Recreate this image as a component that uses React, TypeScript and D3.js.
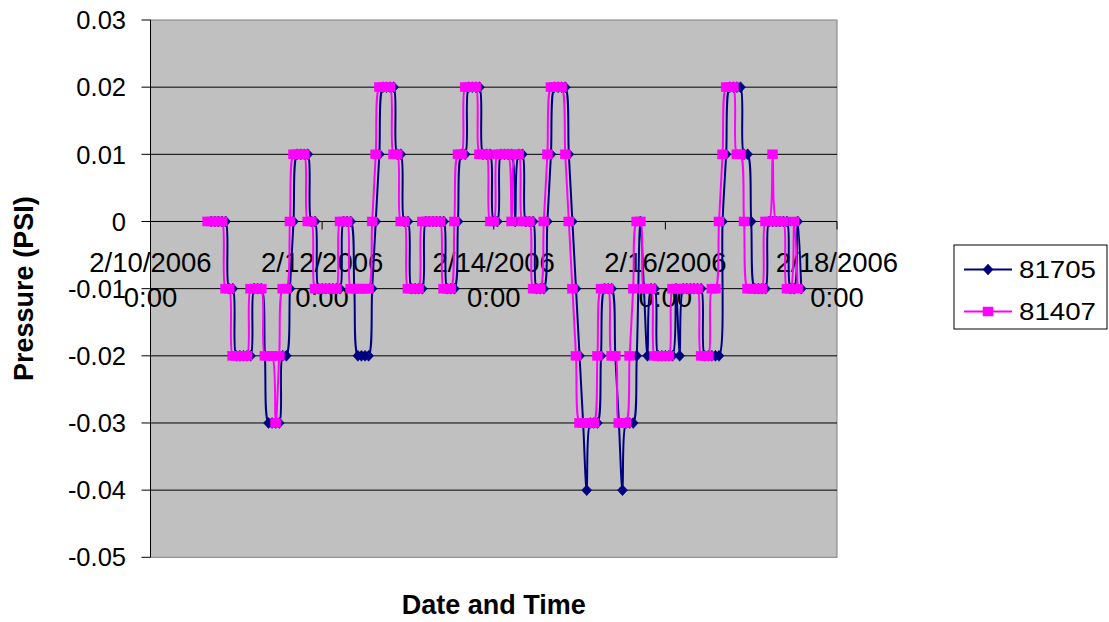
import React from "react";
import * as d3 from "d3";

// ---------- data ----------
// hourly readings, series 81705 starts 2/10/2006 17:00, series 81407 starts 2/10/2006 16:00
const start81705 = new Date(2006, 1, 10, 17);
const start81407 = new Date(2006, 1, 10, 16);

const values81705: number[] = [
  0, 0, 0, 0, 0, -0.01, -0.01, -0.02, -0.02, -0.02, -0.02, -0.02, -0.01, -0.01, -0.01, -0.02,
  -0.03, -0.03, -0.03, -0.03, -0.02, -0.02, -0.01, 0, 0.01, 0.01, 0.01, 0.01, 0, 0,
  -0.01, -0.01, -0.01, -0.01, -0.01, -0.01, -0.01, 0, 0, 0, -0.01, -0.02, -0.02, -0.02, -0.02, -0.01,
  0, 0.01, 0.02, 0.02, 0.02, 0.02, 0.01, 0.01, 0, 0, -0.01, -0.01, -0.01, -0.01,
  0, 0, 0, 0, 0, 0, -0.01, -0.01, -0.01, 0, 0.01, 0.01, 0.02, 0.02, 0.02, 0.02,
  0.01, 0.01, 0.01, 0, 0, 0.01, 0.01, 0.01, 0.01, 0, 0.01, 0.01, 0, 0, 0,
  -0.01, -0.01, -0.01, 0, 0.01, 0.02, 0.02, 0.02, 0.02, 0.01, 0, -0.01, -0.02, -0.03, -0.04,
  -0.03, -0.03, -0.03, -0.02, -0.01, -0.01, -0.01, -0.02, -0.03, -0.04, -0.03, -0.03, -0.03,
  -0.02, 0, -0.01, -0.02, -0.01, -0.01, -0.02, -0.02, -0.02, -0.02, -0.02, -0.01, -0.02,
  -0.01, -0.01, -0.01, -0.01, -0.01, -0.01, -0.02, -0.02, -0.02, -0.02, -0.02,
  0, 0.01, 0.02, 0.02, 0.02, 0.02, 0.01, 0.01, 0, -0.01, -0.01, -0.01, -0.01, 0, 0, 0,
  0, 0, 0, -0.01, -0.01, 0, -0.01,
];

const values81407: number[] = [
  0, 0, 0, 0, 0, -0.01, -0.01, -0.02, -0.02, -0.02, -0.02, -0.02, -0.01, -0.01, -0.01, -0.01,
  -0.02, -0.02, -0.02, -0.03, -0.02, -0.01, -0.01, 0, 0.01, 0.01, 0.01, 0.01, 0, 0,
  -0.01, -0.01, -0.01, -0.01, -0.01, -0.01, -0.01, 0, 0, 0, -0.01, -0.01, -0.01, -0.01, -0.01, -0.01,
  0, 0.01, 0.02, 0.02, 0.02, 0.02, 0.01, 0.01, 0, 0, -0.01, -0.01, -0.01, -0.01,
  0, 0, 0, 0, 0, 0, -0.01, -0.01, -0.01, 0, 0.01, 0.01, 0.02, 0.02, 0.02, 0.02,
  0.01, 0.01, 0.01, 0, 0, 0.01, 0.01, 0.01, 0.01, 0, 0.01, 0.01, 0, 0, 0,
  -0.01, -0.01, -0.01, 0, 0.01, 0.02, 0.02, 0.02, 0.02, 0.01, 0, -0.01, -0.02,
  -0.03, -0.03, -0.03, -0.03, -0.03, -0.02, -0.01, -0.01, -0.01, -0.02, -0.02,
  -0.03, -0.03, -0.03, -0.02, -0.01, 0, 0, -0.01, -0.01, -0.01,
  -0.02, -0.02, -0.02, -0.02, -0.02, -0.01, -0.01, -0.01, -0.01, -0.01, -0.01, -0.01, -0.01,
  -0.02, -0.02, -0.02, -0.01, -0.01, 0, 0.01, 0.02, 0.02, 0.02, 0.01, 0.01, 0,
  -0.01, -0.01, -0.01, -0.01, -0.01, 0, 0, 0.01, 0, 0, 0, -0.01, -0.01, 0, -0.01,
];

const seriesNames = ["81705", "81407"];
const yTicks = [0.03, 0.02, 0.01, 0, -0.01, -0.02, -0.03, -0.04, -0.05];
const yTickLabels = ["0.03", "0.02", "0.01", "0", "-0.01", "-0.02", "-0.03", "-0.04", "-0.05"];
const xTickDates = [
  new Date(2006, 1, 10),
  new Date(2006, 1, 12),
  new Date(2006, 1, 14),
  new Date(2006, 1, 16),
  new Date(2006, 1, 18),
];
const xTickDateLabels = ["2/10/2006", "2/12/2006", "2/14/2006", "2/16/2006", "2/18/2006"];
const xTickTimeLabels = ["0:00", "0:00", "0:00", "0:00", "0:00"];

// ---------- layout ----------
const W = 1109;
const H = 622;
const plot = { left: 150.5, right: 837, top: 20, bottom: 557.3 };
const BLUE = "#000080";
const PINK = "#FF00FF";
const FONT = "Arial, 'Liberation Sans', Helvetica, sans-serif";

type Pt = { t: Date; v: number };

function toPoints(startDate: Date, vals: number[]): Pt[] {
  return vals.map((v, i) => ({ t: d3.timeHour.offset(startDate, i), v }));
}

export default function App() {
  const x = d3
    .scaleTime()
    .domain([xTickDates[0], xTickDates[xTickDates.length - 1]])
    .range([plot.left, plot.right]);
  const y = d3.scaleLinear().domain([-0.05, 0.03]).range([plot.bottom, plot.top]);

  const pts81705 = toPoints(start81705, values81705);
  const pts81407 = toPoints(start81407, values81407);

  const line = d3
    .line<Pt>()
    .x((d) => x(d.t))
    .y((d) => y(d.v))
    .curve(d3.curveCatmullRom.alpha(0.5));

  const diamond = (cx: number, cy: number, w = 10, h = 11) =>
    `M${cx},${cy - h / 2}L${cx + w / 2},${cy}L${cx},${cy + h / 2}L${cx - w / 2},${cy}Z`;

  const y0 = y(0);

  return (
    <svg
      width={W}
      height={H}
      style={{ position: "absolute", left: 0, top: 0, background: "#fff" }}
      fontFamily={FONT}
    >
      <rect x={0} y={0} width={W} height={H} fill="#fff" />
      {/* plot area */}
      <rect
        x={plot.left}
        y={plot.top}
        width={plot.right - plot.left}
        height={plot.bottom - plot.top}
        fill="#C0C0C0"
        stroke="#808080"
        strokeWidth={1}
      />
      {/* gridlines */}
      {yTicks
        .filter((t) => t !== 0.03 && t !== -0.05)
        .map((t) => (
          <line
            key={"g" + t}
            x1={plot.left}
            x2={plot.right}
            y1={y(t)}
            y2={y(t)}
            stroke="#000"
            strokeWidth={1}
          />
        ))}
      {/* y axis */}
      <line x1={plot.left} x2={plot.left} y1={plot.top} y2={plot.bottom} stroke="#000" strokeWidth={1} />
      {yTicks.map((t, i) => (
        <g key={"yt" + i}>
          <line x1={plot.left - 9} x2={plot.left} y1={y(t)} y2={y(t)} stroke="#000" strokeWidth={1} />
          <text
            x={126}
            y={y(t)}
            dy="0.36em"
            textAnchor="end"
            fontSize={25.5}
            fill="#000"
          >
            {yTickLabels[i]}
          </text>
        </g>
      ))}
      {/* x axis at 0 */}
      <line x1={plot.left} x2={plot.right} y1={y0} y2={y0} stroke="#000" strokeWidth={1} />
      {xTickDates.map((d, i) => (
        <g key={"xt" + i}>
          <line x1={x(d)} x2={x(d)} y1={y0} y2={y0 + 8} stroke="#000" strokeWidth={1} />
          <text x={x(d)} y={y0 + 50.5} textAnchor="middle" fontSize={27.5} fill="#000">
            {xTickDateLabels[i]}
          </text>
          <text x={x(d)} y={y0 + 85.5} textAnchor="middle" fontSize={27.5} fill="#000">
            {xTickTimeLabels[i]}
          </text>
        </g>
      ))}

      {/* series 81705 */}
      <path d={line(pts81705) || ""} fill="none" stroke={BLUE} strokeWidth={2} />
      {pts81705.map((p, i) => (
        <path key={"b" + i} d={diamond(x(p.t), y(p.v))} fill={BLUE} stroke={BLUE} strokeWidth={0.5} />
      ))}
      {/* series 81407 */}
      <path d={line(pts81407) || ""} fill="none" stroke={PINK} strokeWidth={2} />
      {pts81407.map((p, i) => (
        <rect
          key={"p" + i}
          x={x(p.t) - 5}
          y={y(p.v) - 4.5}
          width={10}
          height={9}
          fill={PINK}
          stroke={PINK}
          strokeWidth={0.5}
        />
      ))}

      {/* axis titles */}
      <text
        transform={`translate(32.5, ${(plot.top + plot.bottom) / 2}) rotate(-90)`}
        textAnchor="middle"
        fontSize={27}
        fontWeight="bold"
        fill="#000"
      >
        Pressure (PSI)
      </text>
      <text
        x={(plot.left + plot.right) / 2}
        y={614}
        textAnchor="middle"
        fontSize={27}
        fontWeight="bold"
        fill="#000"
      >
        Date and Time
      </text>

      {/* legend */}
      <rect x={954} y={245} width={153} height={84} fill="#fff" stroke="#000" strokeWidth={1} />
      <line x1={964} x2={1012} y1={269.5} y2={269.5} stroke={BLUE} strokeWidth={2} />
      <path d={diamond(988, 269.5)} fill={BLUE} stroke={BLUE} strokeWidth={0.5} />
      <text x={1019} y={269.5} dy="0.36em" fontSize={24} textLength={77} lengthAdjust="spacingAndGlyphs" fill="#000">
        {seriesNames[0]}
      </text>
      <line x1={964} x2={1012} y1={311.5} y2={311.5} stroke={PINK} strokeWidth={2} />
      <rect x={983} y={307} width={10} height={9} fill={PINK} stroke={PINK} strokeWidth={0.5} />
      <text x={1019} y={311.5} dy="0.36em" fontSize={24} textLength={77} lengthAdjust="spacingAndGlyphs" fill="#000">
        {seriesNames[1]}
      </text>
    </svg>
  );
}
